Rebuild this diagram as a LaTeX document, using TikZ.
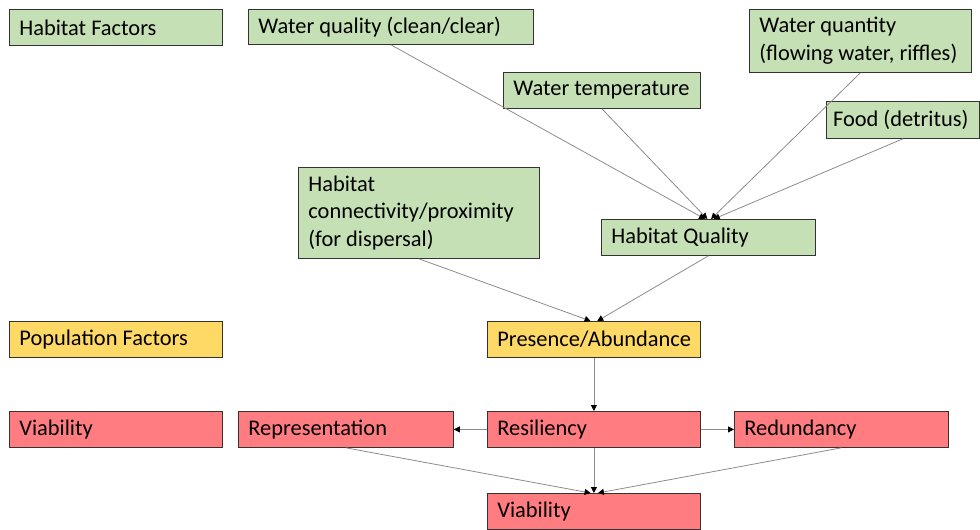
\documentclass[tikz,border=0pt]{standalone}
\usepackage{fontspec}
\setmainfont{Carlito}
\usetikzlibrary{arrows.meta}

\definecolor{habgreen}{HTML}{C5E0B4}
\definecolor{popyellow}{HTML}{FFD966}
\definecolor{viared}{HTML}{FF7C80}

\tikzset{
  box/.style={draw=black!80, line width=0.6pt, anchor=north west, align=flush left,
    inner xsep=7.5pt, inner ysep=2pt, font=\fontsize{16.8}{20.6}\selectfont,
    execute at begin node={\hyphenpenalty=10000\relax}},
  size/.style 2 args={text width={(#1-20)*0.75pt}, minimum height={#2*0.75pt}},
  std/.style={size={213}{36}},
  hab/.style={box, fill=habgreen},
  pop/.style={box, fill=popyellow},
  via/.style={box, fill=viared},
  link/.style={draw=black!45, line width=0.6pt, -{Triangle[width=4.5pt,length=4.5pt,color=black]}}
}

\begin{document}
\begin{tikzpicture}[x=0.75pt,y=-0.75pt]
\useasboundingbox (0,0) rectangle (980,529);
% habitat factors
\node[hab,std] (hf) at (9,9) {Habitat Factors};
\node[hab,size={285}{35}] (wql) at (248,9) {Water quality (clean/clear)};
\node[hab,size={222}{63}] (wqty) at (749,9) {Water quantity\\(flowing water, riffles)};
\node[hab,size={197}{36}] (wtemp) at (503,72) {Water temperature};
\node[hab,size={153}{37},inner xsep=5pt,text width=104.75pt] (food) at (826,101) {Food (detritus)};
\node[hab,size={241}{91}] (conn) at (298,167) {Habitat\\connectivity/proximity\\(for dispersal)};
\node[hab,size={214}{36}] (hq) at (601,219) {Habitat Quality};
% population factors
\node[pop,std] (pf) at (9,321) {Population Factors};
\node[pop,std] (pres) at (487,321) {Presence/Abundance};
% viability
\node[via,std] (vl) at (9,411) {Viability};
\node[via,size={215}{36}] (rep) at (238,411) {Representation};
\node[via,std] (res) at (487,411) {Resiliency};
\node[via,size={214}{36}] (red) at (734,411) {Redundancy};
\node[via,std] (viab) at (487,493) {Viability};

\draw[link] (wql.south) -- ([xshift=-2.5pt]hq.north);
\draw[link] (wtemp.south) -- ([xshift=-0.8pt]hq.north);
\draw[link] (wqty.south) -- ([xshift=2pt]hq.north);
\draw[link] (food.south) -- ([xshift=4pt]hq.north);
\draw[link] (conn.south) -- ([xshift=-2.5pt]pres.north);
\draw[link] (hq.south) -- ([xshift=2.5pt]pres.north);
\draw[link] (pres.south) -- (res.north);
\draw[link] (res.west) -- (rep.east);
\draw[link] (res.east) -- (red.west);
\draw[link] (rep.south) -- ([xshift=-2.5pt]viab.north);
\draw[link] (res.south) -- (viab.north);
\draw[link] (red.south) -- ([xshift=3pt]viab.north);
\end{tikzpicture}
\end{document}
